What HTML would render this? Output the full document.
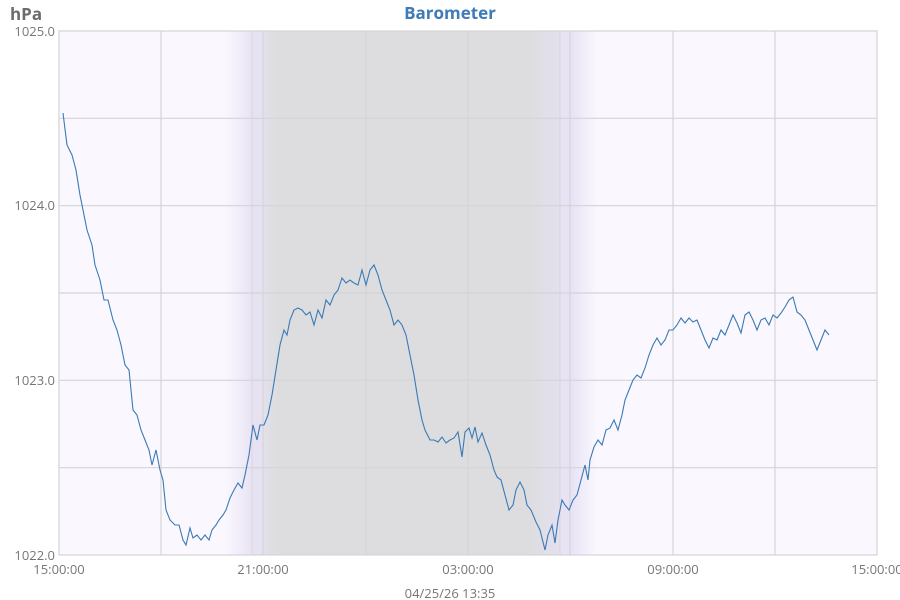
<!DOCTYPE html>
<html><head><meta charset="utf-8"><style>
html,body{margin:0;padding:0;background:#fff;}
svg{display:block;font-family:"Open Sans","Liberation Sans",sans-serif;}
</style></head><body>
<svg width="900" height="600" viewBox="0 0 900 600">
<defs>
<linearGradient id="l1" x1="0" x2="1" y1="0" y2="0">
<stop offset="0" stop-color="#faf8fe"/><stop offset="1" stop-color="#e8e2f4"/></linearGradient>
<linearGradient id="l2" x1="0" x2="1" y1="0" y2="0">
<stop offset="0" stop-color="#e8e2f4"/><stop offset="1" stop-color="#faf8fe"/></linearGradient>
<linearGradient id="g1" x1="0" x2="1" y1="0" y2="0">
<stop offset="0" stop-color="#e2e0ea"/><stop offset="1" stop-color="#dddde0"/></linearGradient>
<linearGradient id="g2" x1="0" x2="1" y1="0" y2="0">
<stop offset="0" stop-color="#dddde0"/><stop offset="1" stop-color="#e4e0ef"/></linearGradient>
</defs>
<rect x="59" y="31" width="818" height="524" fill="#faf8fe"/>
<rect x="225" y="31" width="28" height="524" fill="url(#l1)"/>
<rect x="253" y="31" width="11" height="524" fill="#e6e2f2"/>
<rect x="264" y="31" width="14" height="524" fill="url(#g1)"/>
<rect x="278" y="31" width="252" height="524" fill="#dddde0"/>
<rect x="530" y="31" width="30" height="524" fill="url(#g2)"/>
<rect x="560" y="31" width="11" height="524" fill="#e8e3f4"/>
<rect x="571" y="31" width="26" height="524" fill="url(#l2)"/>
<g stroke="#d4d4d6" stroke-width="1.2">
<line x1="59" x2="877" y1="118.3" y2="118.3"/><line x1="59" x2="877" y1="205.7" y2="205.7"/>
<line x1="59" x2="877" y1="293" y2="293"/><line x1="59" x2="877" y1="380.3" y2="380.3"/>
<line x1="59" x2="877" y1="467.7" y2="467.7"/>
<line x1="161" x2="161" y1="31" y2="555"/><line x1="263" x2="263" y1="31" y2="555"/>
<line x1="252" x2="252" y1="31" y2="555" stroke-width="0.8"/>
<line x1="366" x2="366" y1="31" y2="555"/><line x1="468" x2="468" y1="31" y2="555"/>
<line x1="570" x2="570" y1="31" y2="555"/><line x1="560" x2="560" y1="31" y2="555" stroke-width="0.8"/>
<line x1="673" x2="673" y1="31" y2="555"/><line x1="775" x2="775" y1="31" y2="555"/>
</g>
<rect x="59" y="31" width="818" height="524" fill="none" stroke="#d4d4d6" stroke-width="1.2"/>
<polyline fill="none" stroke="#3a7ab5" stroke-width="1.1" points="63,113 67,145 72,155 76,170 80,195 83,210 87,230 92,245 95,265 100,280 104,300 108,300 113,320 117,330 121,345 125,365 129,370 133,410 137,415 141,430 145,440 149,450 152,465 156,450 160,470 163,480 166,510 170,520 175,525 179,525 183,540 186,545 190,528 193,538 197,535 201,540 205,535 209,540 212,530 216,525 219,520 223,515 226,510 230,498 234,490 238,483 242,488 245,475 249,455 253,425 257,440 260,425 264,425 268,415 272,395 276,370 280,345 284,330 287,335 290,320 294,310 298,308 302,310 306,315 310,312 314,325 318,310 322,318 326,300 330,305 334,295 338,290 342,278 346,283 350,280 354,283 358,285 362,270 366,285 370,270 374,265 378,275 382,290 386,300 390,310 394,325 398,320 402,325 406,335 410,355 414,375 418,400 422,420 425,430 430,440 434,440 438,442 442,437 446,443 450,440 454,438 458,432 462,457 465,432 469,428 472,438 475,427 478,442 482,433 486,445 490,455 494,470 497,477 501,480 505,495 509,510 513,505 516,490 520,482 524,490 527,505 531,510 536,522 540,530 545,550 548,535 552,525 555,543 558,520 562,500 565,505 569,510 573,500 577,495 581,480 585,465 588,480 590,460 594,447 598,440 602,445 606,430 610,428 614,420 618,430 622,415 625,400 629,390 633,380 637,375 641,378 645,368 649,355 653,345 657,338 661,345 665,340 669,330 673,330 677,325 681,318 685,323 689,318 693,322 697,320 701,330 705,340 709,348 713,338 717,340 721,330 725,335 729,325 733,315 737,323 741,333 745,315 749,312 753,320 757,330 761,320 765,318 769,325 773,315 777,318 781,313 785,307 789,300 793,297 797,312 801,315 805,320 809,330 813,340 817,350 821,340 825,330 829,335"/>
<text x="450" y="19" text-anchor="middle" font-size="17" font-weight="bold" fill="#3f7bb6">Barometer</text>
<text x="10" y="20" font-size="17" font-weight="bold" fill="#6b6b6b">hPa</text>
<g font-size="13" fill="#757575" text-anchor="end">
<text x="55" y="36">1025.0</text><text x="55" y="210">1024.0</text>
<text x="55" y="385">1023.0</text><text x="55" y="560">1022.0</text>
</g>
<g font-size="13" fill="#757575" text-anchor="middle">
<text x="59" y="574">15:00:00</text><text x="263" y="574">21:00:00</text>
<text x="468" y="574">03:00:00</text><text x="673" y="574">09:00:00</text>
<text x="877" y="574">15:00:00</text>
<text x="450" y="598">04/25/26 13:35</text>
</g>
</svg>
</body></html>
